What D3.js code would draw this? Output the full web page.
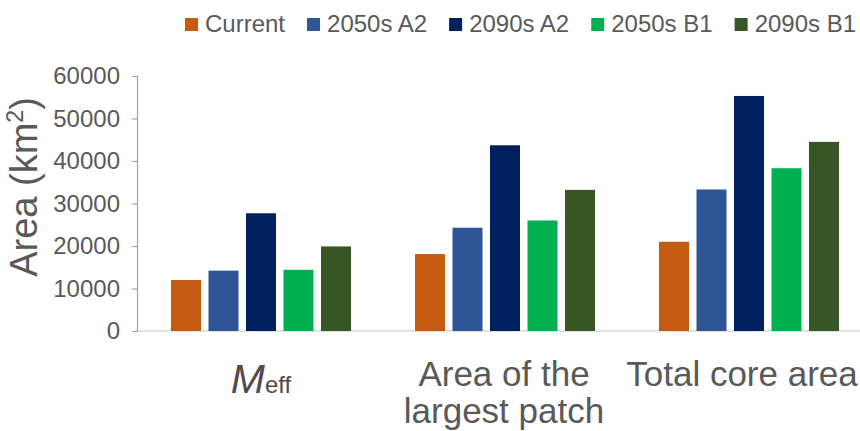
<!DOCTYPE html>
<html>
<head>
<meta charset="utf-8">
<script src="https://cdn.jsdelivr.net/npm/d3@7"></script>
<style>
  html, body { margin: 0; padding: 0; background: #ffffff; }
  svg { display: block; }
  text { font-family: "Liberation Sans", Arial, sans-serif; fill: #595959; }
</style>
</head>
<body>
<svg id="chart" width="860" height="431"></svg>
<script>
// ---- data ----
const categories = ["Meff", "Area of the largest patch", "Total core area"];
const seriesNames = ["Current", "2050s A2", "2090s A2", "2050s B1", "2090s B1"];
const current  = [12000, 18100, 21000];
const a2_2050  = [14200, 24300, 33300];
const a2_2090  = [27700, 43700, 55300];
const b1_2050  = [14400, 26000, 38300];
const b1_2090  = [19900, 33200, 44500];
const yTicks   = [0, 10000, 20000, 30000, 40000, 50000, 60000];
const colors   = ["#C55A11", "#2F5597", "#002060", "#00B050", "#375623"];

const seriesValues = [current, a2_2050, a2_2090, b1_2050, b1_2090];

// ---- layout ----
const svg = d3.select("#chart");
const plotLeft = 137, plotTop = 76, plotBottom = 331;

const x0 = d3.scaleBand().domain(categories).range([139, 871]).padding(0);
const bw = x0.bandwidth();
const x1 = d3.scaleBand().domain(seriesNames).range([0, bw])
  .paddingInner(0.2).paddingOuter(0.853);
const y = d3.scaleLinear().domain([0, 60000]).range([plotBottom, plotTop]);

// baseline
svg.append("line")
  .attr("x1", plotLeft).attr("x2", 860)
  .attr("y1", y(0)).attr("y2", y(0))
  .attr("stroke", "#d9d9d9").attr("stroke-width", 1.5);

// y axis
const yAxis = d3.axisLeft(y).tickValues(yTicks).tickSize(5).tickPadding(12)
  .tickFormat(d3.format("d"));
const gy = svg.append("g").attr("transform", `translate(${plotLeft},0)`).call(yAxis);
gy.select(".domain").attr("stroke", "#a6a6a6").attr("stroke-width", 1.2);
gy.selectAll(".tick line").attr("stroke", "#a6a6a6").attr("stroke-width", 1.2);
gy.selectAll(".tick text")
  .attr("font-size", 24)
  .attr("fill", "#595959")
  .attr("font-family", "'Liberation Sans', Arial, sans-serif");

// bars
seriesNames.forEach((s, si) => {
  svg.append("g").selectAll("rect")
    .data(categories.map((c, ci) => ({ c, v: seriesValues[si][ci] })))
    .join("rect")
    .attr("x", d => x0(d.c) + x1(s))
    .attr("width", x1.bandwidth())
    .attr("y", d => y(d.v))
    .attr("height", d => y(0) - y(d.v))
    .attr("fill", colors[si]);
});

// y title
const yt = svg.append("text")
  .attr("transform", "translate(37,187) rotate(-90)")
  .attr("text-anchor", "middle")
  .attr("font-size", 38);
yt.append("tspan").text("Area (km");
yt.append("tspan").text("2").attr("font-size", 23).attr("dy", -14);
yt.append("tspan").text(")").attr("dy", 14);

// category labels
const c0 = x0(categories[0]) + bw / 2;
const t0 = svg.append("text").attr("x", c0).attr("y", 393)
  .attr("text-anchor", "middle").style("fill", "#524a4a");
t0.append("tspan").text("M").attr("font-size", 41).attr("font-style", "italic");
t0.append("tspan").text("eff").attr("font-size", 24);

const c1 = x0(categories[1]) + bw / 2;
const t1 = svg.append("text").attr("text-anchor", "middle").attr("font-size", 35);
t1.append("tspan").attr("x", c1 - 1).attr("y", 386).text("Area of the");
t1.append("tspan").attr("x", c1 - 1).attr("y", 423).text("largest patch");

const c2 = x0(categories[2]) + bw / 2;
svg.append("text").attr("x", c2 - 7).attr("y", 386)
  .attr("text-anchor", "middle").attr("font-size", 35).text("Total core area");

// legend
const legend = svg.append("g");
let lx = 185;
seriesNames.forEach((s, i) => {
  legend.append("rect").attr("x", lx).attr("y", 18).attr("width", 13).attr("height", 13)
    .attr("fill", colors[i]);
  const t = legend.append("text").attr("x", lx + 20).attr("y", 32)
    .attr("font-size", 24).text(s);
  lx += 20 + t.node().getComputedTextLength() + 22;
});
</script>
</body>
</html>
